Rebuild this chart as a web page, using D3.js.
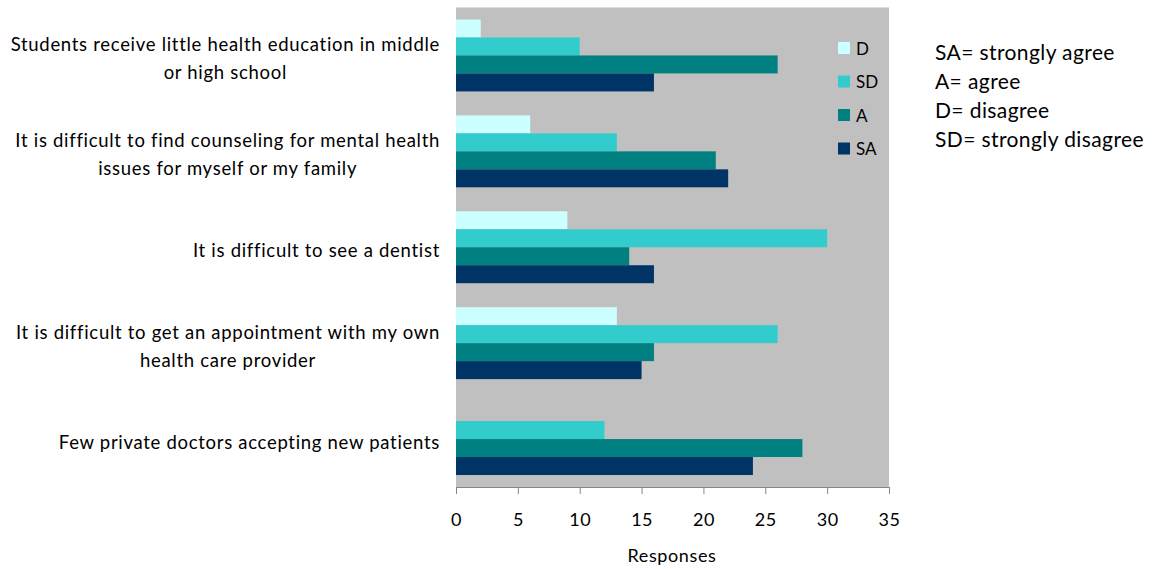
<!DOCTYPE html>
<html>
<head>
<meta charset="utf-8">
<script src="https://cdn.jsdelivr.net/npm/d3@7"></script>
<style>
  html, body { margin: 0; padding: 0; background: #ffffff; }
  svg { display: block; font-family: Lato, "Open Sans", sans-serif; }
</style>
</head>
<body>
<svg id="chart" width="1162" height="569"></svg>
<script>
// Survey statements (top to bottom), each split into its printed lines
const categories = [
  "Students receive little health education in middle|or high school",
  "It is difficult to find counseling for mental health|issues for myself or my family",
  "It is difficult to see a dentist",
  "It is difficult to get an appointment with my own|health care provider",
  "Few private doctors accepting new patients"
];

// Response series, drawn top to bottom within each statement
const seriesNames = ["D", "SD", "A", "SA"];
const valuesD  = [2, 6, 9, 13, 0];
const valuesSD = [10, 13, 30, 26, 12];
const valuesA  = [26, 21, 14, 16, 28];
const valuesSA = [16, 22, 16, 15, 24];
const seriesColors = ["#CCFFFF", "#33CCCC", "#008080", "#003366"];

const xTicks = [0, 5, 10, 15, 20, 25, 30, 35];
const xTitle = "Responses";
const keyLines = ["SA= strongly agree", "A= agree", "D= disagree", "SD= strongly disagree"];

const seriesValues = [valuesD, valuesSD, valuesA, valuesSA];

const svg = d3.select("#chart");
const plot = { left: 456, right: 889, top: 7.5, bottom: 487 };

const x = d3.scaleLinear().domain([0, 35]).range([plot.left, plot.right]);
const y = d3.scaleBand().domain(categories).range([plot.top, plot.bottom])
  .paddingInner(0.25).paddingOuter(0.125);
const ySub = d3.scaleBand().domain(seriesNames).range([0, y.bandwidth()]);
const color = d3.scaleOrdinal().domain(seriesNames).range(seriesColors);

// plot background
svg.append("rect")
  .attr("x", plot.left).attr("y", plot.top)
  .attr("width", plot.right - plot.left).attr("height", plot.bottom - plot.top)
  .attr("fill", "#C0C0C0");

// bars
const groups = svg.append("g").selectAll("g")
  .data(categories)
  .join("g")
  .attr("transform", d => `translate(0,${y(d)})`);

groups.selectAll("rect")
  .data((c, i) => seriesNames.map((s, k) => ({ series: s, value: seriesValues[k][i] })))
  .join("rect")
  .attr("x", x(0))
  .attr("y", d => ySub(d.series))
  .attr("width", d => x(d.value) - x(0))
  .attr("height", ySub.bandwidth())
  .attr("fill", d => color(d.series));

// x axis
const xAxis = svg.append("g")
  .attr("transform", `translate(0,${plot.bottom})`)
  .call(d3.axisBottom(x).tickValues(xTicks).tickSizeInner(7).tickSizeOuter(0).tickPadding(19));
xAxis.select(".domain").attr("stroke", "#868686");
xAxis.selectAll(".tick line").attr("stroke", "#868686");
xAxis.selectAll(".tick text")
  .attr("fill", "#000").attr("font-size", 18)
  .attr("letter-spacing", 0.5)
  .attr("font-family", "Lato, 'Open Sans', sans-serif");

svg.append("text")
  .attr("x", 672)
  .attr("y", 562)
  .attr("text-anchor", "middle")
  .attr("font-size", 18)
  .attr("letter-spacing", 0.6)
  .text(xTitle);

// category labels: lines centred on each other, block right-aligned to the plot
const labelRight = 440;
const lineGap = 28;
categories.forEach(c => {
  const lines = c.split("|");
  const g = svg.append("g");
  const texts = lines.map((ln, j) => g.append("text")
    .attr("font-size", 18.5)
    .attr("letter-spacing", 0.7)
    .attr("text-anchor", "middle")
    .attr("dominant-baseline", "central")
    .attr("y", y(c) + y.bandwidth() / 2 - (lines.length - 1) * lineGap / 2 + j * lineGap + 3)
    .text(ln));
  const w = d3.max(texts, t => t.node().getComputedTextLength());
  texts.forEach(t => t.attr("x", labelRight - w / 2));
});

// legend inside plot
const legend = svg.append("g");
seriesNames.forEach((s, i) => {
  const cy = 48 + i * 33.5;
  legend.append("rect")
    .attr("x", 838).attr("y", cy - 6).attr("width", 12).attr("height", 12)
    .attr("fill", color(s));
  legend.append("text")
    .attr("x", 856).attr("y", cy)
    .attr("dominant-baseline", "central")
    .attr("font-size", 17)
    .text(s);
});

// abbreviation key
svg.append("g").selectAll("text")
  .data(keyLines)
  .join("text")
  .attr("x", 935)
  .attr("y", (d, i) => 51 + i * 29)
  .attr("dominant-baseline", "central")
  .attr("font-size", 21)
  .attr("letter-spacing", 0.4)
  .text(d => d);
</script>
</body>
</html>
